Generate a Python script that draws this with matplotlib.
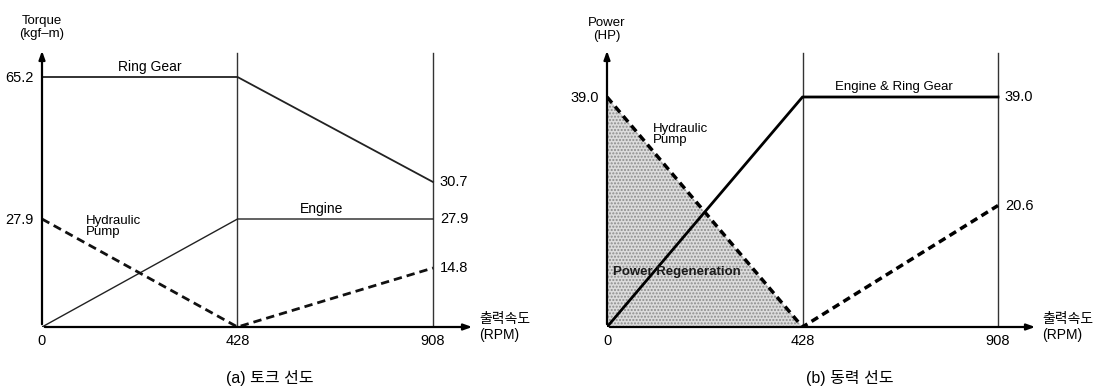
import numpy as np
import matplotlib
matplotlib.use('Agg')
import matplotlib.pyplot as plt

plt.rcParams['font.family'] = ['Liberation Sans', 'Noto Sans CJK KR', 'DejaVu Sans']

# 데이터
rpm = [0, 428, 908]
rpm_labels = ['0', '428', '908']
torque_ring = [65.2, 65.2, 30.7]
torque_engine = [0, 27.9, 27.9]
torque_pump = [27.9, 0, 14.8]
power_engine_ring = [0, 39.0, 39.0]
power_pump = [39.0, 0, 20.6]


# x축은 0-428-908 구간이 같은 간격으로 그려져 있음
def fwd(x):
    x = np.asarray(x, dtype=float)
    return np.where(x <= 428, x / 428, 1 + (x - 428) / 480)


def inv(p):
    p = np.asarray(p, dtype=float)
    return np.where(p <= 1, p * 428, 428 + (p - 1) * 480)


# (a) 토크 축도 원본처럼 개략적인 눈금 (값 -> 기준선 위 픽셀)
tq_vals = np.array([0, 14.8, 27.9, 30.7, 65.2])
tq_px = np.array([0, 59, 108, 145, 250])


def tq_fwd(v):
    v = np.asarray(v, dtype=float)
    out = np.interp(v, tq_vals, tq_px)
    return np.where(v > 65.2, 250 + (v - 65.2) * 105 / 34.5, out)


def tq_inv(p):
    p = np.asarray(p, dtype=float)
    out = np.interp(p, tq_px, tq_vals)
    return np.where(p > 250, 65.2 + (p - 250) * 34.5 / 105, out)


W, H = 1107, 391
fig = plt.figure(figsize=(W / 100, H / 100), dpi=100)

step = 195.5          # 구간 하나의 픽셀 길이
base_y = 327          # 기준선 픽셀 위치
top_y = 48            # 화살표 끝


def make_axes(x0, x_end):
    ax = fig.add_axes([x0 / W, (H - base_y) / H, (x_end - x0) / W, (base_y - top_y) / H])
    ax.set_xscale('function', functions=(fwd, inv))
    ax.set_xlim(0, float(inv((x_end - x0) / step)))
    for s in ax.spines.values():
        s.set_visible(False)
    ax.tick_params(length=0, labelsize=10.5)
    ax.set_xticks(rpm)
    ax.set_xticklabels(rpm_labels)
    ax.tick_params(axis='x', pad=5)
    # 축 화살표
    ax.annotate('', xy=(0, 1), xytext=(0, 0), xycoords='axes fraction',
                arrowprops=dict(arrowstyle='-|>,head_width=0.18,head_length=0.5', color='black', lw=1.6))
    ax.annotate('', xy=(1, 0), xytext=(0, 0), xycoords='axes fraction',
                arrowprops=dict(arrowstyle='-|>,head_width=0.18,head_length=0.5', color='black', lw=1.6))
    vtop = (base_y - 53) / (base_y - top_y)
    for r in rpm[1:]:
        ax.axvline(r, ymax=vtop, color='#333333', lw=1.0)
    ax.text(1.01, 0.0, '출력속도\n(RPM)', transform=ax.transAxes, ha='left', va='center',
            fontsize=10, linespacing=1.1)
    return ax


# (a) 토크 선도
ax1 = make_axes(42, 475)
ax1.set_yscale('function', functions=(tq_fwd, tq_inv))
ax1.set_ylim(0, float(tq_inv(base_y - top_y)))
ax1.plot(rpm, torque_ring, color='#222222', lw=1.3)
ax1.plot(rpm, torque_engine, color='#222222', lw=1.0)
ax1.plot(rpm, torque_pump, color='#111111', lw=2.0, ls=(0, (3, 1.8)))
ax1.set_yticks([65.2, 27.9])
ax1.set_yticklabels(['65.2', '27.9'])
ax1.tick_params(axis='y', pad=6)
ax1.annotate('Ring Gear', xy=(236, 65.2), xytext=(0, 2), textcoords='offset points',
             ha='center', va='bottom', fontsize=10)
ax1.text(96, 25.8, 'Hydraulic\nPump', ha='left', va='center', fontsize=9.5, linespacing=0.9)
ax1.annotate('Engine', xy=(635, 27.9), xytext=(0, 2), textcoords='offset points',
             ha='center', va='bottom', fontsize=10)
for v in [torque_ring[2], torque_engine[2], torque_pump[2]]:
    ax1.annotate(f'{v:.1f}', xy=(908, v), xytext=(5, 0), textcoords='offset points',
                 ha='left', va='center', fontsize=10.5)
ax1.text(0, 1.03, 'Torque\n(kgf\u2013m)', transform=ax1.transAxes, ha='center', va='bottom',
         fontsize=9.5, linespacing=1.1)
fig.text(270 / W, 1 - 378 / H, '(a) 토크 선도', ha='center', va='center', fontsize=11.5)

# (b) 동력 선도
ax2 = make_axes(607, 1038)
ax2.set_ylim(0, 39.0 * (base_y - top_y) / 230)
ax2.fill_between(rpm[:2], power_pump[:2], 0, facecolor='#dcdcdc', edgecolor='#8c8c8c',
                 hatch='.....', lw=0)
ax2.plot(rpm, power_engine_ring, color='black', lw=2.0)
ax2.plot(rpm, power_pump, color='black', lw=2.5, ls=(0, (2.2, 1.4)))
ax2.set_yticks([39.0])
ax2.set_yticklabels(['39.0'])
ax2.tick_params(axis='y', pad=6)
ax2.text(101, 32.6, 'Hydraulic\nPump', ha='left', va='center', fontsize=9.5, linespacing=0.9)
ax2.annotate('Engine & Ring Gear', xy=(653, 39.0), xytext=(0, 3), textcoords='offset points',
             ha='center', va='bottom', fontsize=9.5)
ax2.text(13, 9.3, 'Power Regeneration', ha='left', va='center', fontsize=9.5,
         fontweight='bold', color='#1a1a1a')
for v in [power_engine_ring[2], power_pump[2]]:
    ax2.annotate(f'{v:.1f}', xy=(908, v), xytext=(5, 0), textcoords='offset points',
                 ha='left', va='center', fontsize=10.5)
ax2.text(0, 1.022, 'Power\n(HP)', transform=ax2.transAxes, ha='center', va='bottom',
         fontsize=9.5, linespacing=1.1)
fig.text(850 / W, 1 - 378 / H, '(b) 동력 선도', ha='center', va='center', fontsize=11.5)

fig.savefig('out.png', dpi=100)
